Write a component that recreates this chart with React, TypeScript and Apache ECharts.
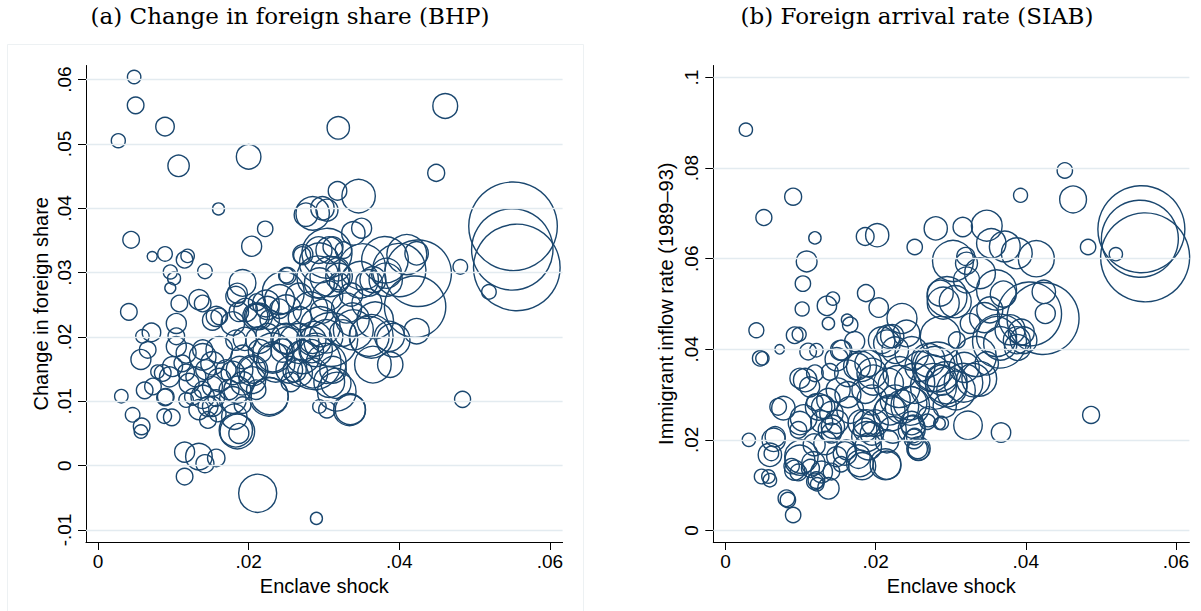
import React, { useEffect, useRef } from "react";
import * as echarts from "echarts";

// ---------- data ----------
// Panel (a): [enclave shock, change in foreign share, weight]
const bhpPoints: [number, number, number][] = [
  [0.0048, 0.0604, 45], [0.005, 0.056, 69], [0.0089, 0.0527, 86], [0.0027, 0.0505, 49],
  [0.0107, 0.0466, 114], [0.02, 0.048, 151], [0.0319, 0.0525, 125], [0.0461, 0.0559, 154],
  [0.0449, 0.0455, 72], [0.016, 0.0399, 36], [0.0044, 0.0351, 69], [0.0222, 0.0368, 59],
  [0.0204, 0.0341, 100], [0.0072, 0.0325, 25], [0.0089, 0.0329, 53], [0.0115, 0.032, 69],
  [0.0119, 0.0326, 45], [0.0142, 0.0302, 53], [0.0096, 0.0301, 49], [0.0101, 0.0291, 42],
  [0.0096, 0.0276, 30], [0.0192, 0.0284, 177], [0.0185, 0.0268, 100], [0.0252, 0.0295, 69],
  [0.0285, 0.0392, 279], [0.0276, 0.039, 137], [0.0298, 0.04, 137], [0.0272, 0.0328, 100],
  [0.0293, 0.0335, 177], [0.0318, 0.0427, 86], [0.0346, 0.0419, 279], [0.0304, 0.0397, 121],
  [0.035, 0.0369, 100], [0.0339, 0.0361, 137],
  [0.0551, 0.0372, 1962], [0.055, 0.0336, 1656], [0.0556, 0.0308, 1875], [0.0481, 0.0309, 53],
  [0.0519, 0.027, 53], [0.0484, 0.0103, 64], [0.0425, 0.0299, 1109], [0.0421, 0.0247, 942],
  [0.0423, 0.033, 137], [0.0423, 0.0209, 161], [0.0381, 0.032, 543], [0.0365, 0.0289, 169],
  [0.0383, 0.0299, 225], [0.041, 0.0328, 400], [0.0308, 0.0294, 400], [0.0348, 0.0289, 335],
  [0.0357, 0.0252, 225], [0.0339, 0.0211, 400], [0.0363, 0.0201, 471], [0.0368, 0.0226, 335],
  [0.0392, 0.0195, 279], [0.0388, 0.0157, 161], [0.0365, 0.0157, 335], [0.0317, 0.0115, 372],
  [0.0335, 0.0087, 225], [0.0304, 0.0087, 69], [0.0295, 0.0216, 400], [0.0312, 0.0149, 177],
  [0.0312, 0.034, 100], [0.0326, 0.0335, 69], [0.0304, 0.033, 625],
  [0.0246, 0.0269, 441], [0.0292, 0.0293, 441], [0.0271, 0.0327, 72], [0.025, 0.0296, 59],
  [0.0282, 0.0243, 303], [0.0287, 0.016, 729], [0.0287, 0.0197, 303], [0.0284, 0.0178, 135],
  [0.0236, 0.016, 372], [0.0228, 0.0108, 342], [0.025, 0.0197, 237], [0.0245, 0.0179, 135],
  [0.0225, 0.0203, 135], [0.021, 0.0233, 135], [0.0225, 0.0245, 135], [0.0187, 0.0239, 94],
  [0.0195, 0.0197, 135], [0.0215, 0.0178, 135], [0.0205, 0.0148, 237], [0.0185, 0.0118, 182],
  [0.0185, 0.0053, 299], [0.0187, 0.005, 100], [0.0181, 0.0076, 161], [0.021, 0.0118, 94],
  [0.0307, 0.013, 237], [0.0261, 0.0148, 135], [0.0256, 0.013, 94], [0.0309, 0.0196, 729],
  [0.0318, 0.0305, 135], [0.032, 0.0285, 94], [0.0268, 0.0229, 135], [0.0241, 0.0244, 94],
  [0.0211, 0.0254, 72], [0.0228, 0.0227, 94], [0.0305, 0.0264, 225], [0.033, 0.0245, 225],
  [0.0336, 0.0266, 135], [0.0298, 0.024, 144], [0.0227, 0.0107, 372], [0.0192, 0.0094, 69],
  [0.0212, -0.0043, 361], [0.029, -0.0082, 36],
  [0.0041, 0.0239, 69], [0.0071, 0.0207, 86], [0.0059, 0.0201, 45], [0.0057, 0.0165, 100],
  [0.0066, 0.018, 69], [0.0031, 0.0108, 45], [0.0062, 0.0117, 69], [0.0046, 0.0079, 53],
  [0.0058, 0.0061, 69], [0.0057, 0.0053, 45], [0.0089, 0.0106, 69], [0.0088, 0.0077, 53],
  [0.0098, 0.0075, 69], [0.0115, 0.0021, 100], [0.0134, 0.0014, 177], [0.0142, 0.0003, 81],
  [0.0157, 0.0012, 76], [0.0115, -0.0017, 69],
  [0.0146, 0.0071, 69], [0.0146, 0.0092, 100], [0.0134, 0.0087, 100], [0.0159, 0.0081, 69],
  [0.0117, 0.0102, 53], [0.0126, 0.0107, 69], [0.0157, 0.0105, 69], [0.0139, 0.0118, 69],
  [0.013, 0.0138, 100], [0.0143, 0.0149, 100], [0.0161, 0.0133, 137], [0.017, 0.0149, 100],
  [0.0152, 0.0123, 100], [0.0139, 0.0169, 177], [0.0161, 0.018, 177], [0.0117, 0.0175, 100],
  [0.0104, 0.0185, 100], [0.0099, 0.0154, 100], [0.0086, 0.0144, 69], [0.0121, 0.0128, 100],
  [0.0104, 0.0221, 100], [0.0108, 0.0252, 69], [0.0134, 0.0258, 100], [0.0139, 0.0252, 69],
  [0.0161, 0.0232, 69], [0.0152, 0.0226, 100], [0.0179, 0.0221, 137], [0.0183, 0.0263, 100],
  [0.0196, 0.0242, 137], [0.021, 0.0232, 177], [0.0223, 0.0252, 177], [0.0241, 0.0258, 225],
  [0.025, 0.0242, 225], [0.0267, 0.019, 400], [0.0289, 0.018, 279], [0.0285, 0.0144, 225],
  [0.0232, 0.0169, 225], [0.025, 0.0195, 177], [0.0214, 0.0195, 177], [0.0183, 0.0195, 100],
  [0.0188, 0.0149, 177], [0.0205, 0.0133, 177], [0.0192, 0.0128, 137], [0.0174, 0.0118, 100],
  [0.0267, 0.0144, 177], [0.0294, 0.0092, 45], [0.0079, 0.0146, 45],
  [0.0157, 0.0232, 100], [0.0214, 0.0232, 177], [0.0267, 0.0263, 177], [0.0294, 0.0284, 225],
  [0.0307, 0.0335, 177], [0.0294, 0.0315, 400], [0.032, 0.0294, 177], [0.0351, 0.0309, 529],
  [0.036, 0.0284, 177], [0.0382, 0.0289, 278], [0.04, 0.0304, 711], [0.0338, 0.0227, 278],
  [0.036, 0.0201, 400], [0.0387, 0.0201, 225], [0.0303, 0.0201, 278], [0.0325, 0.0206, 177],
  [0.0303, 0.0159, 400], [0.0316, 0.0128, 225], [0.0334, 0.0087, 256], [0.0285, 0.0195, 177],
  [0.0272, 0.0169, 278], [0.0232, 0.0175, 400], [0.0254, 0.0149, 177], [0.0205, 0.0149, 177],
  [0.0192, 0.0169, 137], [0.0179, 0.0144, 137], [0.0139, 0.018, 100], [0.0152, 0.0159, 137],
  [0.0139, 0.0107, 137], [0.0152, 0.0092, 100], [0.0179, 0.0102, 177], [0.0183, 0.0055, 278],
  [0.0104, 0.0201, 69], [0.0095, 0.0138, 100], [0.0073, 0.0123, 69], [0.009, 0.0107, 69],
  [0.0112, 0.0159, 69], [0.0117, 0.0145, 69],
];

// Panel (b): [enclave shock, immigrant inflow rate 1989–93, weight]
const siabPoints: [number, number, number][] = [
  [0.0027, 0.0885, 44], [0.009, 0.0737, 72], [0.0051, 0.0691, 64], [0.0452, 0.0795, 59],
  [0.0393, 0.074, 49], [0.0463, 0.0731, 180], [0.0483, 0.0626, 59], [0.052, 0.061, 44],
  [0.0554, 0.0665, 1892], [0.0552, 0.0644, 1482], [0.0559, 0.0603, 1980], [0.0487, 0.0255, 72],
  [0.0367, 0.0216, 94], [0.0323, 0.0232, 204], [0.0041, 0.0442, 56], [0.0046, 0.038, 59],
  [0.0049, 0.038, 44], [0.0072, 0.04, 23], [0.0031, 0.02, 44], [0.0083, 0.0067, 59],
  [0.009, 0.0034, 59],
  [0.0119, 0.0646, 38], [0.0108, 0.0594, 108], [0.0103, 0.0545, 59], [0.0102, 0.0489, 49],
  [0.0135, 0.0496, 94], [0.0143, 0.0512, 44], [0.0137, 0.0457, 38], [0.0162, 0.0465, 34],
  [0.0166, 0.0454, 59], [0.0187, 0.0524, 72], [0.0204, 0.0492, 94], [0.0186, 0.0649, 79],
  [0.0202, 0.0652, 135], [0.0252, 0.0626, 59], [0.028, 0.0667, 135], [0.0316, 0.067, 94],
  [0.0348, 0.0673, 237], [0.0354, 0.0634, 216], [0.0372, 0.0627, 237], [0.0388, 0.0612, 237],
  [0.0414, 0.06, 324], [0.0303, 0.0595, 420], [0.0321, 0.059, 121], [0.032, 0.0605, 81],
  [0.0339, 0.0568, 237], [0.0321, 0.0553, 169], [0.0361, 0.0531, 400], [0.037, 0.0522, 169],
  [0.0295, 0.0516, 400], [0.0286, 0.0524, 169], [0.029, 0.0502, 256], [0.0306, 0.0505, 256],
  [0.0352, 0.0487, 169], [0.0345, 0.047, 225], [0.0326, 0.0457, 100], [0.0308, 0.042, 69],
  [0.0286, 0.0428, 400], [0.0424, 0.0527, 137], [0.0426, 0.0479, 100], [0.0423, 0.0468, 1296],
  [0.0405, 0.0478, 1024], [0.0379, 0.0443, 225], [0.0361, 0.0428, 400], [0.0388, 0.042, 182],
  [0.0389, 0.0404, 169], [0.0394, 0.0438, 169], [0.0365, 0.0418, 729], [0.0334, 0.0384, 400],
  [0.0338, 0.0335, 303], [0.0317, 0.0326, 372], [0.0318, 0.036, 225], [0.0282, 0.0361, 625],
  [0.0277, 0.0318, 529], [0.0294, 0.0326, 441], [0.0307, 0.0309, 372], [0.0292, 0.0275, 135],
  [0.0269, 0.024, 59], [0.0285, 0.0236, 34], [0.0256, 0.018, 94], [0.0251, 0.0202, 94],
  [0.0248, 0.0223, 182], [0.0246, 0.0275, 372], [0.0231, 0.0318, 441], [0.0235, 0.0468, 225],
  [0.0241, 0.0435, 177], [0.0222, 0.0429, 135], [0.0208, 0.042, 177], [0.0217, 0.0428, 137],
  [0.0226, 0.0398, 177], [0.0248, 0.0391, 279], [0.0252, 0.0325, 400], [0.0275, 0.0347, 335],
  [0.0288, 0.0332, 225], [0.0279, 0.0362, 400], [0.027, 0.0376, 279], [0.0217, 0.0325, 225],
  [0.0226, 0.0288, 225], [0.0235, 0.0273, 279], [0.0186, 0.031, 177], [0.0195, 0.0288, 225],
  [0.0199, 0.0237, 177], [0.0186, 0.0222, 137], [0.0181, 0.0237, 177], [0.0163, 0.0347, 177],
  [0.0181, 0.0362, 225], [0.0195, 0.0347, 225], [0.019, 0.0369, 177], [0.0172, 0.0417, 100],
  [0.0155, 0.0398, 100], [0.0213, 0.0146, 237], [0.022, 0.0258, 303], [0.0215, 0.0197, 135],
  [0.019, 0.0185, 177], [0.0195, 0.0214, 137], [0.0257, 0.0181, 137], [0.0252, 0.0207, 69],
  [0.0223, 0.0222, 177], [0.0248, 0.0237, 137], [0.027, 0.0251, 100], [0.0288, 0.0237, 45],
  [0.0177, 0.0163, 137], [0.0182, 0.0142, 182], [0.0159, 0.017, 137], [0.0154, 0.0146, 59],
  [0.0141, 0.013, 69], [0.0137, 0.0093, 114], [0.0119, 0.0108, 69], [0.0122, 0.0102, 45],
  [0.0117, 0.0148, 137], [0.0113, 0.0137, 81], [0.0101, 0.0163, 279], [0.0092, 0.0133, 100],
  [0.0097, 0.0128, 69], [0.0137, 0.0288, 137], [0.0141, 0.0259, 137], [0.0139, 0.0222, 137],
  [0.0141, 0.0215, 100], [0.0124, 0.0273, 177], [0.0119, 0.0283, 69], [0.0077, 0.027, 137],
  [0.007, 0.0273, 69], [0.0104, 0.0248, 177], [0.0097, 0.0222, 69], [0.0066, 0.0207, 100],
  [0.0059, 0.0167, 137], [0.0061, 0.017, 53], [0.0057, 0.0119, 45], [0.0048, 0.0119, 53],
  [0.0059, 0.0111, 45], [0.0099, 0.0336, 100], [0.0106, 0.0332, 137], [0.0119, 0.0347, 69],
  [0.0139, 0.035, 69], [0.011, 0.0395, 69], [0.0121, 0.0398, 45], [0.0092, 0.0431, 69],
  [0.0098, 0.0433, 49], [0.0148, 0.0378, 135], [0.0133, 0.0193, 135], [0.0128, 0.024, 121],
  [0.0148, 0.024, 135], [0.0163, 0.03, 169], [0.015, 0.031, 144], [0.0118, 0.0189, 121],
  [0.0128, 0.0129, 117], [0.0088, 0.0142, 59],
  [0.0112, 0.0317, 100], [0.0153, 0.0398, 100], [0.0175, 0.0362, 178], [0.0197, 0.0332, 225],
  [0.0215, 0.0413, 178], [0.0232, 0.0347, 278], [0.0259, 0.0362, 225], [0.0295, 0.0317, 400],
  [0.033, 0.0332, 278], [0.0348, 0.0369, 136], [0.0366, 0.0413, 278], [0.0397, 0.042, 178],
  [0.0099, 0.0237, 136], [0.013, 0.0273, 136], [0.0143, 0.0229, 136], [0.0166, 0.0266, 178],
  [0.0188, 0.0237, 178], [0.0219, 0.0266, 225], [0.0246, 0.0281, 278], [0.025, 0.0229, 136],
  [0.0064, 0.02, 136], [0.0099, 0.0155, 225], [0.0121, 0.0111, 69], [0.0148, 0.0163, 100],
  [0.0179, 0.0148, 178], [0.0215, 0.0144, 196], [0.0257, 0.0178, 114], [0.0188, 0.0207, 225],
  [0.0161, 0.0178, 100], [0.0081, 0.0071, 69],
];

const shockTicks = [0, 0.02, 0.04, 0.06];
const bhpTicks = [-0.01, 0, 0.01, 0.02, 0.03, 0.04, 0.05, 0.06];
const siabTicks = [0, 0.02, 0.04, 0.06, 0.08, 0.1];

const titleA = "(a) Change in foreign share (BHP)";
const titleB = "(b) Foreign arrival rate (SIAB)";
const xName = "Enclave shock";
const yNameA = "Change in foreign share";
const yNameB = "Immigrant inflow rate (1989–93)";

// ---------- styling ----------
const NAVY = "#1a476f";
const GRID_COLOR = "#e3ebf0";
const SANS = '"Liberation Sans", Arial, Helvetica, sans-serif';
const SERIF = '"DejaVu Serif", "Liberation Serif", serif';

const fmt = (v: number) => {
  if (Math.abs(v) < 1e-12) return "0";
  const s = String(+v.toFixed(4));
  return s.replace(/^(-?)0\./, "$1.");
};

function makeXAxis(gridIndex: number, min: number, max: number) {
  return {
    gridIndex,
    type: "value",
    min,
    max,
    name: xName,
    nameLocation: "middle",
    nameGap: 32,
    nameTextStyle: { fontFamily: SANS, fontSize: 20, color: "#000" },
    axisLine: { show: true, onZero: false, lineStyle: { color: "#000", width: 1 } },
    axisTick: { show: true, length: 8, customValues: shockTicks, lineStyle: { color: "#000", width: 1 } },
    axisLabel: {
      customValues: shockTicks,
      formatter: fmt,
      margin: 10,
      fontFamily: SANS,
      fontSize: 19,
      color: "#000",
    },
    splitLine: { show: false },
  };
}

function makeYAxis(gridIndex: number, min: number, max: number, ticks: number[], name: string, nameGap: number) {
  return {
    gridIndex,
    type: "value",
    min,
    max,
    name,
    nameLocation: "middle",
    nameGap,
    nameTextStyle: { fontFamily: SANS, fontSize: 20, color: "#000" },
    axisLine: { show: true, onZero: false, lineStyle: { color: "#000", width: 1 } },
    axisTick: { show: true, length: 8, customValues: ticks, lineStyle: { color: "#000", width: 1 } },
    axisLabel: {
      customValues: ticks,
      formatter: fmt,
      rotate: 90,
      margin: 12,
      fontFamily: SANS,
      fontSize: 19,
      color: "#000",
    },
    splitLine: { show: false },
  };
}

function gridSeries(idx: number, ticks: number[]) {
  return {
    type: "scatter",
    xAxisIndex: idx,
    yAxisIndex: idx,
    data: [],
    silent: true,
    z: 1,
    markLine: {
      silent: true,
      symbol: "none",
      label: { show: false },
      lineStyle: { type: "solid", color: GRID_COLOR, width: 1.4 },
      data: ticks.map((t) => ({ yAxis: t })),
    },
  };
}

function bubbleSeries(idx: number, pts: [number, number, number][]) {
  return {
    type: "scatter",
    xAxisIndex: idx,
    yAxisIndex: idx,
    z: 3,
    data: pts,
    symbol: "circle",
    symbolSize: (v: number[]) => 2 * Math.sqrt(v[2]),
    itemStyle: { color: "rgba(0,0,0,0)", borderColor: NAVY, borderWidth: 1.4, opacity: 1 },
    emphasis: { disabled: true },
  };
}

export default function App() {
  const ref = useRef<HTMLDivElement>(null);
  useEffect(() => {
    if (!ref.current) return;
    const chart = echarts.init(ref.current, null, { renderer: "svg" });
    chart.setOption({
      animation: false,
      backgroundColor: "#fff",
      grid: [
        { left: 86, top: 65.5, width: 476.6, height: 476.5 },
        { left: 713.3, top: 65.5, width: 476.1, height: 476.5 },
      ],
      xAxis: [makeXAxis(0, -0.00159, 0.06168), makeXAxis(1, -0.00164, 0.0618)],
      yAxis: [
        makeYAxis(0, -0.01187, 0.06219, bhpTicks, yNameA, 35),
        makeYAxis(1, -0.00256, 0.10267, siabTicks, yNameB, 37),
      ],
      graphic: [
        {
          type: "rect",
          silent: true,
          shape: { x: 7.5, y: 44.5, width: 576, height: 600 },
          style: { fill: "none", stroke: "#edf1f3", lineWidth: 1 },
          z: 0,
        },
        {
          type: "text",
          x: 290,
          y: 16,
          style: { text: titleA, font: `23px ${SERIF}`, fill: "#000", textAlign: "center", textVerticalAlign: "middle" },
        },
        {
          type: "text",
          x: 917,
          y: 16,
          style: { text: titleB, font: `23px ${SERIF}`, fill: "#000", textAlign: "center", textVerticalAlign: "middle" },
        },
      ],
      series: [gridSeries(0, bhpTicks), gridSeries(1, siabTicks), bubbleSeries(0, bhpPoints), bubbleSeries(1, siabPoints)],
    });
    return () => chart.dispose();
  }, []);
  return <div ref={ref} style={{ position: "absolute", left: 0, top: 0, width: 1201, height: 611 }} />;
}
